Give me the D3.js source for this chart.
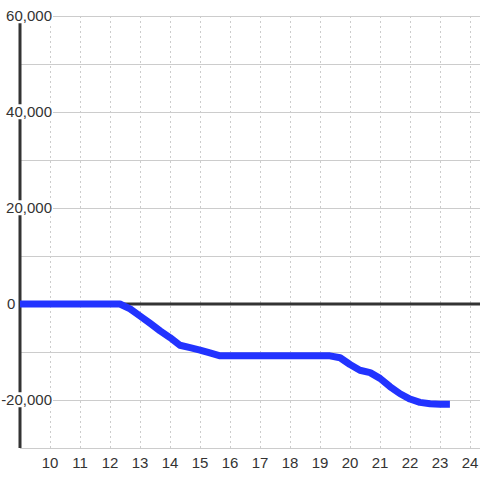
<!DOCTYPE html>
<html>
<head>
<meta charset="utf-8">
<script src="https://cdn.jsdelivr.net/npm/d3@7"></script>
<style>
  body { margin: 0; background: #fff; }
  text { font-family: "Liberation Sans", Arial, sans-serif; font-size: 15px; fill: #333; }
</style>
</head>
<body>
<script>
// chart values (hour of day, cumulative value)
const hours = [9, 12.33, 12.67, 13, 13.33, 13.67, 14, 14.33, 14.67, 15, 15.33, 15.67,
  16, 17, 18, 19, 19.33, 19.67, 20, 20.33, 20.67, 21, 21.33, 21.67, 22, 22.33, 22.67, 23, 23.33];
const values = [0, 0, -1000, -2500, -4000, -5600, -7000, -8600, -9100, -9600, -10200, -10800,
  -10800, -10800, -10800, -10800, -10800, -11200, -12600, -13800, -14300, -15500, -17200, -18700, -19800, -20500, -20800, -20900, -20900];
const xTicks = [10, 11, 12, 13, 14, 15, 16, 17, 18, 19, 20, 21, 22, 23, 24];
const yTicks = [-20000, 0, 20000, 40000, 60000];
const yGrid = [-30000, -20000, -10000, 0, 10000, 20000, 30000, 40000, 50000, 60000];

const width = 480, height = 480;
const plotLeft = 20, plotRight = 480, plotTop = 16, plotBottom = 448;

const x = d3.scaleLinear().domain([9, 24.333]).range([plotLeft, plotRight]);
const y = d3.scaleLinear().domain([-30000, 60000]).range([plotBottom, plotTop]);
const fmt = d3.format(",d");

const svg = d3.select("body").append("svg")
  .attr("width", width)
  .attr("height", height);

// horizontal grid
svg.append("g").selectAll("line").data(yGrid).join("line")
  .attr("x1", plotLeft).attr("x2", plotRight)
  .attr("y1", d => Math.round(y(d)) + 0.5).attr("y2", d => Math.round(y(d)) + 0.5)
  .attr("stroke", "#ccc");

// vertical dotted grid
svg.append("g").selectAll("line").data(xTicks).join("line")
  .attr("x1", d => Math.round(x(d)) + 0.5).attr("x2", d => Math.round(x(d)) + 0.5)
  .attr("y1", plotTop).attr("y2", plotBottom)
  .attr("stroke", "#ccc")
  .attr("stroke-dasharray", "2,3");

// y axis + zero line
svg.append("line")
  .attr("x1", plotLeft).attr("x2", plotLeft)
  .attr("y1", plotTop).attr("y2", plotBottom)
  .attr("stroke", "#333").attr("stroke-width", 3);
svg.append("line")
  .attr("x1", plotLeft).attr("x2", plotRight)
  .attr("y1", y(0)).attr("y2", y(0))
  .attr("stroke", "#333").attr("stroke-width", 3);

// the series
const line = d3.line()
  .x((d, i) => x(hours[i]))
  .y(d => y(d));
svg.append("path")
  .datum(values)
  .attr("fill", "none")
  .attr("stroke", "#2233ff")
  .attr("stroke-width", 7)
  .attr("stroke-linejoin", "round")
  .attr("d", line);

// y labels with white box behind
const yl = svg.append("g").selectAll("g").data(yTicks).join("g");
yl.append("text")
  .attr("x", d => d === 0 ? 7 : 52)
  .attr("y", d => y(d))
  .attr("dy", "0.35em")
  .attr("text-anchor", d => d === 0 ? "start" : "end")
  .text(d => fmt(d).replace("−", "-"))
  .each(function () {
    const b = this.getBBox();
    d3.select(this.parentNode).insert("rect", "text")
      .attr("x", b.x).attr("y", b.y + 1)
      .attr("width", b.width + 1).attr("height", b.height - 2)
      .attr("fill", "#fff");
  });

// x labels
svg.append("g").selectAll("text").data(xTicks).join("text")
  .attr("x", d => x(d))
  .attr("y", 463)
  .attr("dy", "0.35em")
  .attr("text-anchor", "middle")
  .text(d => d);
</script>
</body>
</html>
